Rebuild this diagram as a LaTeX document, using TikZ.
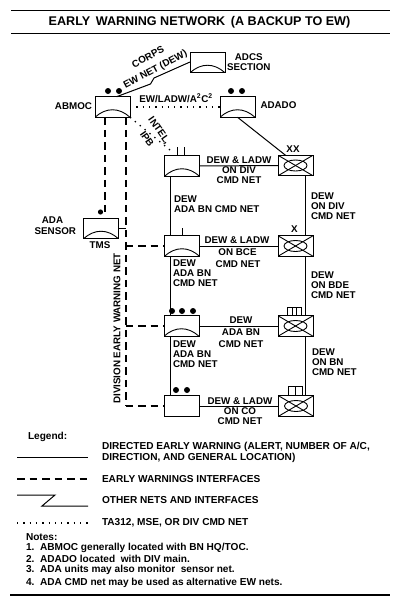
\documentclass[tikz,border=0pt]{standalone}
\usepackage{fontspec}
\setmainfont{Liberation Sans}
\tikzset{
  lbl/.style={font=\bfseries\fontsize{9.8}{10}\selectfont, inner sep=0pt, outer sep=0pt},
  lblc/.style={lbl, align=center},
  lbll/.style={lbl, align=left, anchor=west},
  wide/.style={font=\bfseries\fontsize{10.1}{11}\selectfont, inner sep=0pt, outer sep=0pt, align=left, anchor=west},
  note/.style={font=\bfseries\fontsize{10.1}{10}\selectfont, inner sep=0pt, outer sep=0pt, anchor=west},
  unitbox/.style={draw=black, line width=1pt, inner sep=0pt, outer sep=0pt, minimum width=35pt, minimum height=20.5pt, fill=white},
  shelter/.style={unitbox, path picture={
    \draw[line width=0.9pt] (path picture bounding box.south west) .. controls +(11pt,10pt) and +(-11pt,10pt) .. (path picture bounding box.south east);}},
  armor/.style={unitbox, path picture={
    \draw[line width=0.9pt] (path picture bounding box.south west) -- (path picture bounding box.north east);
    \draw[line width=0.9pt] (path picture bounding box.north west) -- (path picture bounding box.south east);
    \draw[line width=0.9pt] (path picture bounding box.center) ellipse (11.5pt and 5.5pt);}},
  solidnet/.style={line width=1pt},
  dashnet/.style={line width=1.9pt, dash pattern=on 7.5pt off 5pt},
  dotnet/.style={line width=1.3pt, dash pattern=on 1.3pt off 5pt},
  markdot/.style={fill=black},
  rule/.style={line width=1.3pt}
}
\begin{document}
\begin{tikzpicture}[x=1pt,y=-1pt]
\useasboundingbox (0,0) rectangle (400,613);
% title
\coordinate (ruleAL) at (11,10.5);
\coordinate (ruleAR) at (390,10.5);
\coordinate (ruleBL) at (11,33.5);
\coordinate (ruleBR) at (390,33.5);
\draw[rule] (ruleAL) -- (ruleAR);
\draw[rule] (ruleBL) -- (ruleBR);
\node[lbl, font=\bfseries\fontsize{12.6}{13}\selectfont] (title) at (199.5,22) {EARLY\, WARNING NETWORK\, (A BACKUP TO EW)};
% boxes
\node[shelter] (adcs) at (207.5,62.5) {};
\node[shelter] (abmoc) at (112.5,107) {};
\node[shelter] (adado) at (237.5,107) {};
\node[shelter] (divada) at (182,166) {};
\node[armor] (divcmd) at (295.5,165.5) {};
\node[shelter] (tms) at (101,228.5) {};
\node[shelter] (bdeada) at (182,246) {};
\node[armor] (bdecmd) at (295.5,246) {};
\node[shelter] (bnada) at (181.5,326) {};
\node[armor] (bncmd) at (295.5,326) {};
\node[unitbox] (coada) at (182,406) {};
\node[armor] (cocmd) at (296,406) {};
% other nets
\coordinate (zigA) at (154,78);
\coordinate (zigB) at (150.5,84);
\draw[solidnet] ([xshift=4pt]abmoc.north) -- (zigB) -- (zigA) -- ([yshift=0.5pt]adcs.west);
\draw[solidnet] (adado.south) -- ([xshift=-10pt]divcmd.north);
% dotted nets
\coordinate (intelend) at (170,150);
\draw[dotnet] (abmoc.east) -- (adado.west);
\draw[dotnet] (abmoc.south east) -- (intelend);
% solid columns
\draw[solidnet] ([xshift=-12pt]divada.south) -- ([xshift=-12pt]bdeada.north);
\draw[solidnet] ([xshift=-12pt]bdeada.south) -- ([xshift=-11.5pt]bnada.north);
\draw[solidnet] ([xshift=-11.5pt]bnada.south) -- ([xshift=-12pt]coada.north);
\draw[solidnet] ([xshift=9.5pt]divcmd.south) -- ([xshift=9.5pt]bdecmd.north);
\draw[solidnet] ([xshift=9.5pt]bdecmd.south) -- ([xshift=9.5pt]bncmd.north);
\draw[solidnet] ([xshift=9.5pt]bncmd.south) -- ([xshift=9pt]cocmd.north);
\draw[solidnet] (divada) -- (divcmd);
\draw[solidnet] (bdeada) -- (bdecmd);
\draw[solidnet] (bnada) -- (bncmd);
\draw[solidnet] (coada) -- (cocmd);
% dashed nets
\coordinate (sensorend) at (105,212);
\coordinate (busA) at (125.7,246);
\coordinate (busB) at (125.7,326);
\coordinate (busC) at (125.7,406);
\draw[dashnet] ([xshift=-7.5pt]abmoc.south) -- (sensorend);
\draw[dashnet] ([xshift=13.2pt]abmoc.south) -- (busC);
\draw[dashnet] (busC) -- (coada.west);
\draw[dashnet] (busA) -- (bdeada.west);
\draw[dashnet] (busB) -- (bnada.west);
\draw[solidnet] (tms.east) -- ++(7,0);
% echelon marks
\fill[markdot] (108,91) circle (3);
\fill[markdot] (119,91) circle (3);
\fill[markdot] (231,91) circle (3);
\fill[markdot] (242,91) circle (3);
\fill[markdot] (100.5,212) circle (2.6);
\fill[markdot] (172,311) circle (3);
\fill[markdot] (182,311) circle (3);
\fill[markdot] (193,311) circle (3);
\fill[markdot] (176,390) circle (3);
\fill[markdot] (187,390) circle (3);
\draw[solidnet] (177,147) -- (177,156);
\draw[solidnet] (184,147) -- (184,156);
\draw[solidnet] (182,228) -- (182,235.5);
\draw[solidnet] (287.5,316) -- (287.5,307) -- (301,307) -- (301,316);
\draw[solidnet] (292,307) -- (292,316);
\draw[solidnet] (296.5,307) -- (296.5,316);
\draw[solidnet] (288.5,396) -- (288.5,386) -- (302,386) -- (302,396);
\draw[solidnet] (295,386) -- (295,396);
% labels
\node[lbl, anchor=east] (abmoclbl) at (92,106) {ABMOC};
\node[lblc, anchor=west] (adcslbl) at (227,62) {ADCS\\SECTION};
\node[lbll] (adadolbl) at (260.5,105) {ADADO};
\node[lbl] (corpslbl) at (148,57) [rotate=28] {CORPS};
\node[lbl] (ewnetlbl) at (155.5,69.5) [rotate=28] {EW NET (DEW)};
\node[lbl] (ewladwlbl) at (176,98) {EW/LADW/A\textsuperscript{2}C\textsuperscript{2}};
\node[lbl] (intellbl) at (159,131) [rotate=-55] {INTEL,};
\node[lbl] (ipblbl) at (147,139) [rotate=-55] {IPB};
\node[lbl] (xxlbl) at (293,149) {XX};
\node[lbl] (xlbl) at (294.5,229) {X};
\node[lblc] (adalbl) at (52.5,220) {ADA};
\node[lbl, anchor=east] (sensorlbl) at (76,231) {SENSOR};
\node[lbl] (tmslbl) at (100,245) {TMS};
\node[lbll] (divnetlbl) at (174,204) {DEW\\ADA BN CMD NET};
\node[lblc] (divcmdlbl) at (239,170) {DEW \& LADW\\ON DIV\\CMD NET};
\node[lbll] (divrightlbl) at (311,206) {DEW\\ON DIV\\CMD NET};
\node[lbl] (bcea) at (237,240) {DEW \& LADW};
\node[lbl] (bceb) at (237.5,252) {ON BCE};
\node[lbl] (bcec) at (238,264) {CMD NET};
\node[lbll] (bdeleftlbl) at (173,273) {DEW\\ADA BN\\CMD NET};
\node[lbll] (bderightlbl) at (311,285) {DEW\\ON BDE\\CMD NET};
\node[lbl] (bna) at (241,320) {DEW};
\node[lbl] (bnb) at (241,332) {ADA BN};
\node[lbl] (bnc) at (241,344) {CMD NET};
\node[lbll] (bnleftlbl) at (173,354) {DEW\\ADA BN\\CMD NET};
\node[lbll] (bnrightlbl) at (312,362) {DEW\\ON BN\\CMD NET};
\node[lblc] (colbl) at (240,411) {DEW \& LADW\\ON CO\\CMD NET};
\node[lbl] (divewlbl) at (117,328.5) [rotate=90] {DIVISION EARLY WARNING NET};
% legend
\node[note] (legendlbl) at (28,437) {Legend:};
\node[wide] (lega) at (102,452.5) {DIRECTED EARLY WARNING (ALERT, NUMBER OF A/C,\\DIRECTION, AND GENERAL LOCATION)};
\node[wide] (legb) at (102,479) {EARLY WARNINGS INTERFACES};
\node[wide] (legc) at (102,500) {OTHER NETS AND INTERFACES};
\node[wide] (legd) at (102,523) {TA312, MSE, OR DIV CMD NET};
\coordinate (solidL) at (17,457);
\coordinate (solidR) at (88,457);
\coordinate (dashL) at (17,479);
\coordinate (dashR) at (88,479);
\coordinate (zigL) at (17,495);
\coordinate (zigM) at (55,495);
\coordinate (zigN) at (42,506);
\coordinate (zigR) at (88,506);
\coordinate (dotL) at (17,523);
\coordinate (dotR) at (88,523);
\draw[solidnet] (solidL) -- (solidR);
\draw[dashnet] (dashL) -- (dashR);
\draw[solidnet] (zigL) -- (zigM) -- (zigN) -- (zigR);
\draw[dotnet] (dotL) -- (dotR);
% notes
\node[note] (notelbl) at (26,537) {Notes:};
\node[note] (notea) at (26,548) {1.\ \ ABMOC generally located with BN HQ/TOC.};
\node[note] (noteb) at (26,559) {2.\ \ ADADO located\ \ with DIV main.};
\node[note] (notec) at (26,570) {3.\ \ ADA units may also monitor\ \ sensor net.};
\node[note] (noted) at (26,583) {4.\ \ ADA CMD net may be used as alternative EW nets.};
\coordinate (ruleCL) at (10,595);
\coordinate (ruleCR) at (390,595);
\draw[rule] (ruleCL) -- (ruleCR);
\end{tikzpicture}
\end{document}
